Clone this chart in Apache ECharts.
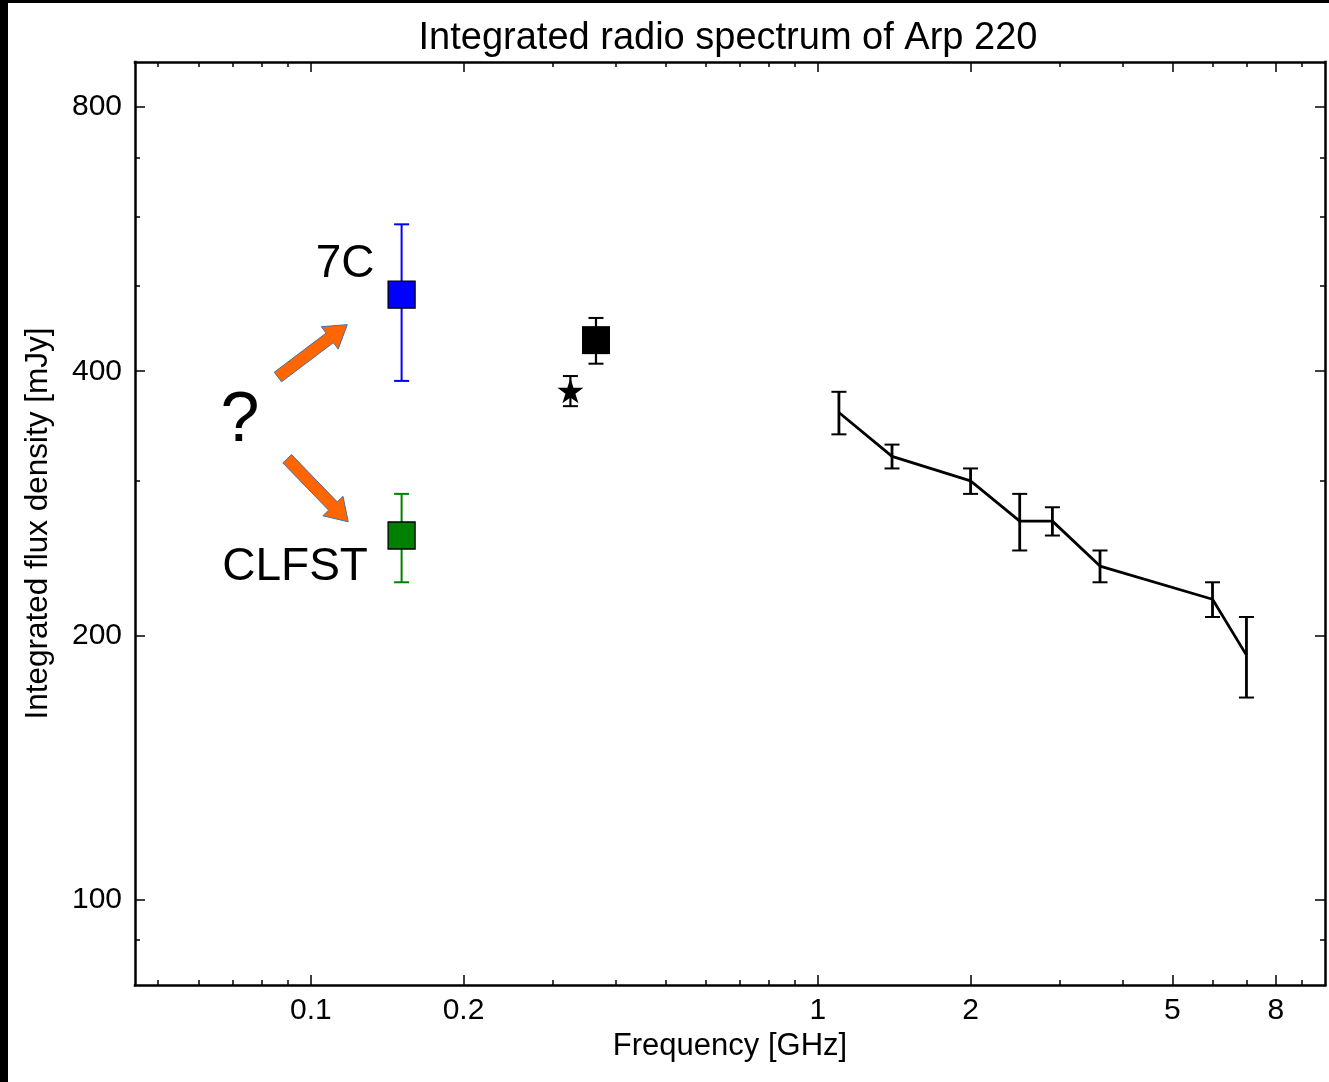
<!DOCTYPE html>
<html lang='en'>

<head>
  <meta charset='UTF-8'>
  <title>Integrated radio spectrum of Arp 220</title>
  <script src="https://cdn.jsdelivr.net/npm/echarts@6/dist/echarts.min.js"></script>
  <style>
    html, body {
      margin: 0;
      padding: 0;
      width: 100%;
      height: 100%;
      background: #000;
      overflow: hidden;
    }

    #chart {
      position: absolute;
      left: 8px;
      top: 3px;
      width: 1321px;
      height: 1079px;
      background: #fff;
    }
  </style>
</head>

<body>
  <div id="chart"></div>

  <script>
    // integrated spectrum, GHz / mJy
    const specFreq = [1.1, 1.4, 2.0, 2.5, 2.9, 3.6, 6.0, 7.0]
    const specFlux = [359, 320, 300, 270, 270, 240, 220, 190]
    const specErr = [20, 10, 10, 20, 10, 10, 10, 20]

    // low frequency measurements
    const c7Freq = [0.151]
    const c7Flux = [489]
    const c7Err = [99]
    const clfstFreq = [0.151]
    const clfstFlux = [260]
    const clfstErr = [30]
    const wenssFreq = [0.325]
    const wenssFlux = [380]
    const wenssErr = [15]
    const texasFreq = [0.365]
    const texasFlux = [434]
    const texasErr = [26]

    // tick values
    const xMajor = [0.1, 0.2, 1, 2, 5, 8]
    const xMinor = [0.05, 0.06, 0.07, 0.08, 0.09, 0.3, 0.4, 0.5, 0.6, 0.7, 0.8, 0.9, 3, 4, 6, 7, 9]
    const yMajor = [100, 200, 400, 800]
    const yMinor = [90, 300, 500, 600, 700]

    // annotations, anchored in data space
    const noteText = ['7C', 'CLFST', '?']
    const noteFreq = [0.1168, 0.0931, 0.0725]
    const noteFlux = [530, 239, 350]
    const arrowFrom = [[0.0861, 394], [0.0898, 318]]
    const arrowTo = [[0.118, 452], [0.1185, 269.5]]

    const FONT = 'Liberation Sans'
    const STAR = 'path://M50 0 L61.23 34.55 L97.55 34.55 L68.17 55.9 L79.39 90.45 L50 69.1 L20.61 90.45 L31.83 55.9 L2.45 34.55 L38.77 34.55 Z'

    function fmt (v) {
      return String(+(+v).toPrecision(3))
    }

    function xAxisDef (pos, ticks, len, withLabel) {
      return {
        type: 'log',
        logBase: 10,
        position: pos,
        min: 0.045,
        max: 10,
        name: withLabel ? 'Frequency [GHz]' : '',
        nameLocation: 'middle',
        nameGap: 46,
        nameTextStyle: { fontFamily: FONT, fontSize: 31, color: '#000' },
        axisLine: { show: len === 10, onZero: false, lineStyle: { color: '#000', width: 2.5, cap: 'square' } },
        axisTick: { show: true, inside: true, length: len, customValues: ticks, lineStyle: { color: '#000', width: 1.5 } },
        axisLabel: {
          show: withLabel,
          customValues: ticks,
          formatter: fmt,
          margin: 11,
          fontFamily: FONT,
          fontSize: 30,
          color: '#000'
        },
        splitLine: { show: false },
        minorTick: { show: false }
      }
    }

    function yAxisDef (pos, ticks, len, withLabel) {
      return {
        type: 'log',
        logBase: 10,
        position: pos,
        min: 80,
        max: 900,
        name: withLabel ? 'Integrated flux density [mJy]' : '',
        nameLocation: 'middle',
        nameGap: 81,
        nameTextStyle: { fontFamily: FONT, fontSize: 31.5, color: '#000' },
        axisLine: { show: len === 10, onZero: false, lineStyle: { color: '#000', width: 2.5, cap: 'square' } },
        axisTick: { show: true, inside: true, length: len, customValues: ticks, lineStyle: { color: '#000', width: 1.5 } },
        axisLabel: {
          show: withLabel,
          customValues: ticks,
          formatter: fmt,
          margin: 13,
          fontFamily: FONT,
          fontSize: 30,
          color: '#000'
        },
        splitLine: { show: false },
        minorTick: { show: false }
      }
    }

    function errorBars (freq, flux, err, color, width) {
      return {
        type: 'custom',
        z: 3,
        silent: true,
        data: freq.map((f, i) => [f, flux[i] - err[i], flux[i] + err[i]]),
        encode: { x: 0, y: [1, 2] },
        renderItem: function (params, api) {
          const lo = api.coord([api.value(0), api.value(1)])
          const hi = api.coord([api.value(0), api.value(2)])
          const half = 7.5
          return {
            type: 'group',
            children: [
              { type: 'line', shape: { x1: lo[0], y1: lo[1], x2: hi[0], y2: hi[1] }, style: { stroke: color, lineWidth: width } },
              { type: 'line', shape: { x1: lo[0] - half, y1: lo[1], x2: lo[0] + half, y2: lo[1] }, style: { stroke: color, lineWidth: 2 } },
              { type: 'line', shape: { x1: hi[0] - half, y1: hi[1], x2: hi[0] + half, y2: hi[1] }, style: { stroke: color, lineWidth: 2 } }
            ]
          }
        }
      }
    }

    function marker (freq, flux, symbol, size, color, border) {
      return {
        type: 'scatter',
        z: 4,
        silent: true,
        symbol: symbol,
        symbolSize: size,
        itemStyle: { color: color, borderColor: '#000', borderWidth: border, opacity: 1 },
        data: freq.map((f, i) => [f, flux[i]])
      }
    }

    function init () {
      const chart = echarts.init(document.getElementById('chart'), null, { renderer: 'canvas' })
      window.chart = chart

      chart.setOption({
        animation: false,
        backgroundColor: '#fff',
        title: {
          text: 'Integrated radio spectrum of Arp 220',
          left: 720,
          top: 17,
          padding: 0,
          textAlign: 'center',
          textStyle: { fontFamily: FONT, fontSize: 38, fontWeight: 'normal', color: '#000' }
        },
        grid: { left: 127, right: 4, top: 59, bottom: 97, containLabel: false },
        xAxis: [
          xAxisDef('bottom', xMajor, 10, true),
          xAxisDef('bottom', xMinor, 5, false),
          xAxisDef('top', xMajor, 10, false),
          xAxisDef('top', xMinor, 5, false)
        ],
        yAxis: [
          yAxisDef('left', yMajor, 10, true),
          yAxisDef('left', yMinor, 5, false),
          yAxisDef('right', yMajor, 10, false),
          yAxisDef('right', yMinor, 5, false)
        ],
        series: [
          {
            type: 'line',
            z: 2,
            silent: true,
            symbol: 'none',
            lineStyle: { color: '#000', width: 2.8 },
            data: specFreq.map((f, i) => [f, specFlux[i]])
          },
          errorBars(specFreq, specFlux, specErr, '#000', 2.8),
          errorBars(c7Freq, c7Flux, c7Err, '#0000ff', 2),
          errorBars(clfstFreq, clfstFlux, clfstErr, '#008000', 2),
          errorBars(wenssFreq, wenssFlux, wenssErr, '#000', 2.2),
          errorBars(texasFreq, texasFlux, texasErr, '#000', 2.2),
          marker(c7Freq, c7Flux, 'rect', 27, '#0000ff', 1.3),
          marker(clfstFreq, clfstFlux, 'rect', 27, '#008000', 1.3),
          marker(texasFreq, texasFlux, 'rect', 28, '#000', 0),
          marker(wenssFreq, wenssFlux, STAR, [26, 25], '#000', 0),
          {
            // orange block arrows
            type: 'custom',
            z: 5,
            silent: true,
            data: arrowFrom.map((p, i) => [p[0], p[1], arrowTo[i][0], arrowTo[i][1]]),
            encode: { x: [0, 2], y: [1, 3] },
            renderItem: function (params, api) {
              const p0 = api.coord([api.value(0), api.value(1)])
              const p1 = api.coord([api.value(2), api.value(3)])
              const dx = p1[0] - p0[0]
              const dy = p1[1] - p0[1]
              const len = Math.sqrt(dx * dx + dy * dy)
              const ux = dx / len
              const uy = dy / len
              const nx = -uy
              const ny = ux
              const sw = 6
              const hw = 14
              const hl = 22
              const bx = p1[0] - ux * hl
              const by = p1[1] - uy * hl
              return {
                type: 'polygon',
                shape: {
                  points: [
                    [p0[0] + nx * sw, p0[1] + ny * sw],
                    [bx + nx * sw, by + ny * sw],
                    [bx + nx * hw, by + ny * hw],
                    [p1[0], p1[1]],
                    [bx - nx * hw, by - ny * hw],
                    [bx - nx * sw, by - ny * sw],
                    [p0[0] - nx * sw, p0[1] - ny * sw]
                  ]
                },
                style: { fill: '#ff6600', stroke: '#4a6fa5', lineWidth: 1 }
              }
            }
          },
          {
            // text notes
            type: 'custom',
            z: 5,
            silent: true,
            data: noteFreq.map((f, i) => [f, noteFlux[i]]),
            encode: { x: 0, y: 1 },
            renderItem: function (params, api) {
              const p = api.coord([api.value(0), api.value(1)])
              const txt = noteText[params.dataIndex]
              return {
                type: 'text',
                x: p[0],
                y: p[1],
                style: {
                  text: txt,
                  fill: '#000',
                  fontFamily: FONT,
                  fontSize: txt === '?' ? 70 : 46,
                  align: 'center',
                  verticalAlign: 'middle'
                }
              }
            }
          }
        ]
      })
    }

    window.onload = init
  </script>
</body>
</html>
